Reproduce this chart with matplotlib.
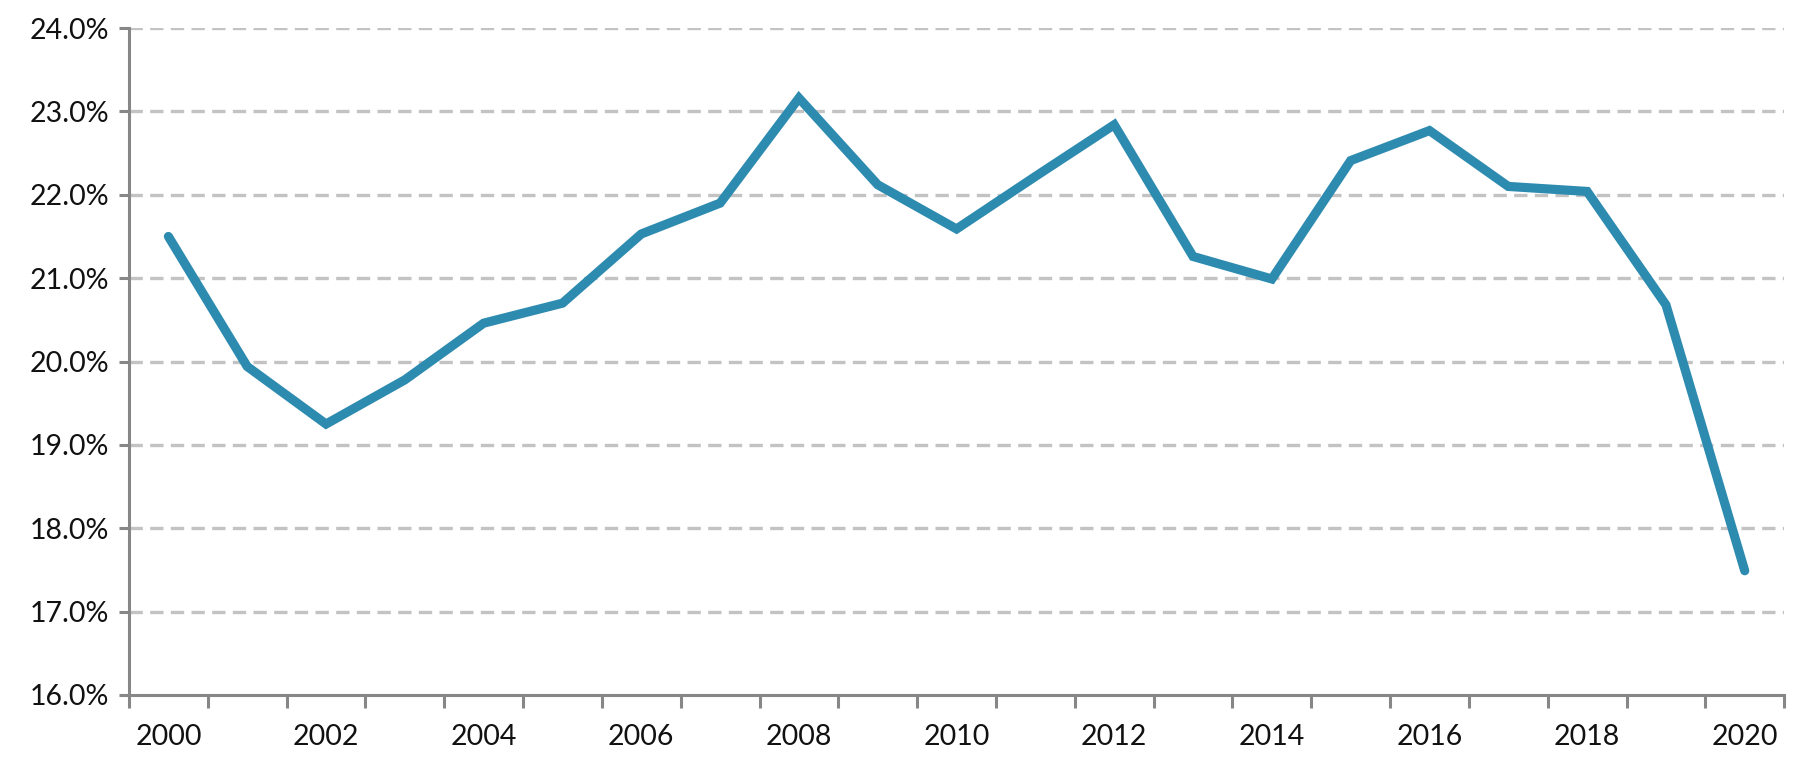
import numpy as np
import matplotlib.pyplot as plt
from matplotlib.ticker import FuncFormatter

# data
years = list(range(2000, 2021))
values = [21.5, 19.94, 19.25, 19.78, 20.46, 20.70, 21.53, 21.90, 23.16, 22.12,
          21.59, 22.22, 22.84, 21.26, 20.99, 22.41, 22.77, 22.10, 22.04, 20.68, 17.49]
y_ticks = [16, 17, 18, 19, 20, 21, 22, 23, 24]

plt.rcParams["font.family"] = ["Lato", "DejaVu Sans"]

fig = plt.figure(figsize=(18.04, 7.66), dpi=100)
ax = fig.add_axes([0.0715, 0.0927, 0.9175, 0.8707])

x = np.arange(len(years))

# dashed gridlines
for t in y_ticks[1:]:
    ax.axhline(t, color="#c3c3c3", lw=2.4, dashes=(4, 2.2), zorder=1)

ax.plot(x, values, color="#2e8bb0", lw=6.6, solid_capstyle="round",
        solid_joinstyle="miter", zorder=3)

ax.set_xlim(-0.5, len(years) - 0.5)
ax.set_ylim(16, 24)
ax.set_yticks(y_ticks)
ax.yaxis.set_major_formatter(FuncFormatter(lambda v, p: f"{v:.1f}%"))

# category boundaries as ticks, labels every other year
ax.set_xticks(np.arange(-0.5, len(years), 1.0))
ax.set_xticklabels([])
ax.set_xticks(x[::2], minor=True)
ax.set_xticklabels([str(y) for y in years[::2]], minor=True)

for s in ["top", "right"]:
    ax.spines[s].set_visible(False)
for s in ["left", "bottom"]:
    ax.spines[s].set_color("#878787")
    ax.spines[s].set_linewidth(2.2)

ax.tick_params(axis="y", which="major", length=7, width=2.2, color="#878787",
               labelsize=20.5, pad=7, labelcolor="#111111")
ax.tick_params(axis="x", which="major", length=9, width=2.2, color="#878787")
ax.tick_params(axis="x", which="minor", length=0, labelsize=20.5, pad=21,
               labelcolor="#111111")

fig.savefig("out.png", dpi=100)
